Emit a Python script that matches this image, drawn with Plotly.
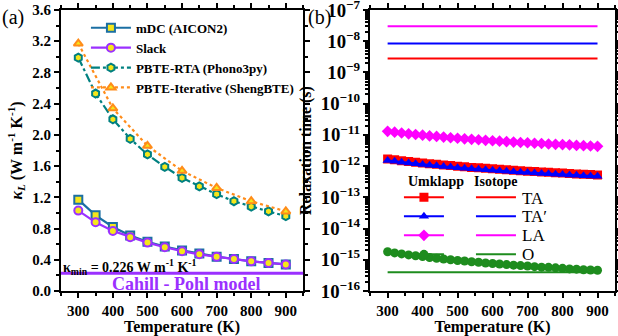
import plotly.graph_objects as go
from plotly.subplots import make_subplots

# ---- panel (a): lattice thermal conductivity ----
temp_a = [300, 350, 400, 450, 500, 550, 600, 650, 700, 750, 800, 850, 900]
k_mdc = [1.17, 0.97, 0.82, 0.71, 0.63, 0.57, 0.52, 0.48, 0.44, 0.41, 0.38, 0.36, 0.34]
k_slack = [1.03, 0.88, 0.77, 0.69, 0.62, 0.56, 0.51, 0.47, 0.44, 0.41, 0.38, 0.36, 0.34]
k_rta = [2.99, 2.53, 2.20, 1.95, 1.75, 1.59, 1.45, 1.34, 1.24, 1.15, 1.08, 1.02, 0.96]
temp_it = [300, 400, 500, 600, 700, 800, 900]
k_iter = [3.17, 2.34, 1.86, 1.54, 1.32, 1.15, 1.02]
k_min = 0.226

# ---- panel (b): relaxation times ----
temp_b = [300, 320, 340, 360, 380, 400, 420, 440, 460, 480, 500, 520, 540, 560, 580, 600,
          620, 640, 660, 680, 700, 720, 740, 760, 780, 800, 820, 840, 860, 880, 900]
tau_u_ta = [1.70, 1.59, 1.49, 1.40, 1.33, 1.26, 1.19, 1.14, 1.08, 1.04, 0.99, 0.95, 0.91, 0.88, 0.85, 0.82,
            0.79, 0.76, 0.74, 0.71, 0.69, 0.67, 0.65, 0.63, 0.61, 0.60, 0.58, 0.56, 0.55, 0.54, 0.52]
tau_u_ta2 = [1.52, 1.43, 1.34, 1.26, 1.19, 1.13, 1.07, 1.02, 0.97, 0.93, 0.89, 0.85, 0.82, 0.79, 0.76, 0.73,
             0.71, 0.68, 0.66, 0.64, 0.62, 0.60, 0.58, 0.57, 0.55, 0.54, 0.52, 0.51, 0.49, 0.48, 0.47]
tau_u_la = [13.0, 12.2, 11.5, 10.8, 10.3, 9.8, 9.3, 8.9, 8.5, 8.1, 7.8, 7.5, 7.2, 7.0, 6.7, 6.5,
            6.3, 6.1, 5.9, 5.7, 5.6, 5.4, 5.3, 5.1, 5.0, 4.9, 4.8, 4.6, 4.5, 4.4, 4.3]
tau_u_o = [18.0, 16.6, 15.4, 14.3, 13.4, 12.6, 11.8, 11.2, 10.6, 10.0, 9.5, 9.1, 8.6, 8.3, 7.9, 7.6,
           7.3, 7.0, 6.7, 6.5, 6.3, 6.0, 5.8, 5.7, 5.5, 5.3, 5.1, 5.0, 4.8, 4.7, 4.6]
scale_u = {'TA': 1e-12, "TA'": 1e-12, 'LA': 1e-12, 'O': 1e-16}
tau_iso = {'TA': 2.8e-9, "TA'": 8.5e-9, 'LA': 3.0e-8, 'O': 4.0e-16}
temp_iso = [300, 900]
mode_labels = ['TA', 'TA\u2032', 'LA', 'O']

FONT = "Liberation Serif"

fig = make_subplots(rows=1, cols=2, horizontal_spacing=0.12)

# panel (a) traces
series_a = [
    ('mDC (AICON2)', temp_a, k_mdc, '#1b6fa3', 'solid', 'square'),
    ('Slack', temp_a, k_slack, '#9b30ff', 'solid', 'circle'),
    ('PBTE-RTA (Phono3py)', temp_a, k_rta, '#008080', 'dashdot', 'hexagon'),
    ('PBTE-Iterative (ShengBTE)', temp_it, k_iter, '#ff8c1a', 'dot', 'triangle-up'),
]
for name, xs, ys, color, dash, sym in series_a:
    fig.add_trace(go.Scatter(
        x=xs, y=ys, name=name, mode='lines+markers',
        line=dict(color=color, width=2.2, dash=dash),
        marker=dict(symbol=sym, size=8, color='#f5e61a', line=dict(color=color, width=2)),
        legend='legend'
    ), row=1, col=1)

fig.add_shape(type='line', xref='x domain', yref='y', x0=0, x1=1, y0=k_min, y1=k_min,
              line=dict(color='#9b30ff', width=3))

# panel (b) traces
modes = [('TA', tau_u_ta, '#ff0000', 'square'),
         ("TA'", tau_u_ta2, '#0000ff', 'triangle-up'),
         ('LA', tau_u_la, '#ff00ff', 'diamond'),
         ('O', tau_u_o, '#1e8c1e', 'circle')]
for mode_name, vals, color, sym in modes:
    fig.add_trace(go.Scatter(
        x=temp_b, y=[v * scale_u[mode_name] for v in vals], name=' ',
        mode='lines+markers', line=dict(color=color, width=2),
        marker=dict(symbol=sym, size=9, color=color),
        legend='legend2'
    ), row=1, col=2)
for mode_name, vals, color, sym in modes:
    fig.add_trace(go.Scatter(
        x=temp_iso, y=[tau_iso[mode_name]] * 2, name=' ', mode='lines',
        line=dict(color=color, width=2), legend='legend3'
    ), row=1, col=2)

axis_common = dict(
    showline=True, linecolor='black', linewidth=2, mirror='allticks',
    ticks='outside', ticklen=5, tickwidth=1.5, tickcolor='black',
    showgrid=False, zeroline=False, automargin=False, ticklabeloverflow='allow',
    tickfont=dict(family=FONT, size=15, color='black', weight='bold'),
)
for c in (1, 2):
    fig.update_xaxes(
        range=[250, 950], tickvals=[300, 400, 500, 600, 700, 800, 900],
        minor=dict(ticks='outside', ticklen=3, dtick=50, tickcolor='black'),
        title=dict(text='Temperature (K)', font=dict(family=FONT, size=16, color='black', weight='bold'),
                   standoff=0),
        row=1, col=c, **axis_common)

fig.update_yaxes(
    range=[0, 3.6], dtick=0.4, tickformat='.1f',
    minor=dict(ticks='outside', ticklen=3, dtick=0.2, tickcolor='black'),
    title=dict(text='<i>κ<sub>L</sub></i> (W m<sup>-1</sup> K<sup>-1</sup>)',
               font=dict(family=FONT, size=16, color='black', weight='bold'), standoff=6),
    row=1, col=1, **axis_common)
fig.update_yaxes(
    type='log', range=[-16.001, -6.999], dtick=1, exponentformat='power',
    minor=dict(ticks='outside', ticklen=3, dtick='D1', tickcolor='black'),
    title=dict(text='Relaxation time (s)',
               font=dict(family=FONT, size=16, color='black', weight='bold'), standoff=5),
    row=1, col=2, **axis_common)

fig.update_xaxes(domain=[0, 0.437], row=1, col=1)
fig.update_xaxes(domain=[0.558, 1], row=1, col=2)

fig.add_annotation(text='κ<sub>min</sub> = 0.226 W m<sup>-1</sup> K<sup>-1</sup>',
                   xref='x domain', yref='y', x=0.0, y=0.31, xanchor='left', yanchor='middle',
                   showarrow=False, font=dict(family=FONT, size=14, color='black', weight='bold'))
fig.add_annotation(text='Cahill - Pohl model', xref='x domain', yref='y', x=0.52, y=0.09,
                   xanchor='center', yanchor='middle', showarrow=False,
                   font=dict(family=FONT, size=18, color='#9b30ff', weight='bold'))
fig.add_annotation(text='(a)', xref='paper', yref='paper', x=-0.11, y=1.02, xanchor='left',
                   yanchor='top', showarrow=False, font=dict(family=FONT, size=20, color='black'))
fig.add_annotation(text='(b)', xref='paper', yref='paper', x=0.443, y=1.02, xanchor='left',
                   yanchor='top', showarrow=False, font=dict(family=FONT, size=20, color='black'))

# panel (b) legend headings and isotope labels
fig.add_annotation(text='Umklapp', xref='paper', yref='paper', x=0.677, y=0.391,
                   xanchor='center', yanchor='middle', showarrow=False,
                   font=dict(family=FONT, size=14, color='black', weight='bold'))
fig.add_annotation(text='Isotope', xref='paper', yref='paper', x=0.785, y=0.391,
                   xanchor='center', yanchor='middle', showarrow=False,
                   font=dict(family=FONT, size=14, color='black', weight='bold'))
for i, lab in enumerate(mode_labels):
    fig.add_annotation(text=lab, xref='paper', yref='paper', x=0.829, y=0.33 - i * 0.0665,
                       xanchor='left', yanchor='middle', showarrow=False,
                       font=dict(family=FONT, size=17, color='black'))

fig.update_layout(
    width=618, height=336,
    margin=dict(l=61, r=3, t=10, b=45),
    plot_bgcolor='white', paper_bgcolor='white',
    legend=dict(x=0.045, y=0.99, xanchor='left', yanchor='top', bgcolor='rgba(0,0,0,0)',
                font=dict(family=FONT, size=13, color='black', weight='bold'),
                tracegroupgap=0, itemwidth=40),
    legend2=dict(x=0.61, y=0.385, xanchor='left', yanchor='top', bgcolor='rgba(0,0,0,0)',
                 font=dict(family=FONT, size=11, color='black'), itemwidth=40),
    legend3=dict(x=0.74, y=0.385, xanchor='left', yanchor='top', bgcolor='rgba(0,0,0,0)',
                 font=dict(family=FONT, size=11, color='black'), itemwidth=40),
)

fig.write_html("out.html", post_script="document.body.style.margin='0';",
               config={'displayModeBar': False})
